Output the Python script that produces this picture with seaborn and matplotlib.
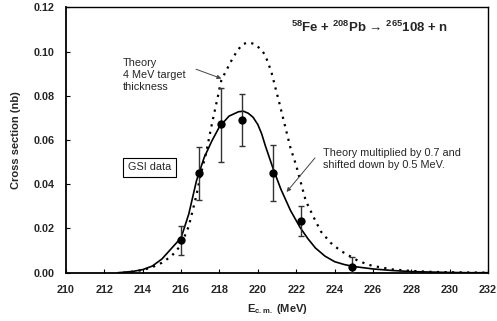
import matplotlib
matplotlib.use("Agg")
import matplotlib.pyplot as plt
import seaborn as sns
import pandas as pd

# ---- data ----
exp_E = [216.0, 216.95, 218.06, 219.16, 220.8, 222.24, 224.9]
exp_sigma = [0.0148, 0.045, 0.0671, 0.0691, 0.045, 0.0234, 0.0024]
exp_err_lo = [0.0068, 0.0121, 0.017, 0.0118, 0.0126, 0.0068, 0.0024]
exp_err_hi = [0.0065, 0.012, 0.0166, 0.0118, 0.0126, 0.0068, 0.0048]

solid_E = [212.7, 213.0, 213.5, 214.0, 214.5, 215.0, 215.5, 216.0, 216.4, 216.8,
           217.2, 217.6, 218.0, 218.5, 219.0, 219.25, 219.5, 219.75, 220.0, 220.2,
           220.4, 220.8, 221.2, 221.7, 222.2, 222.6, 223.0, 223.5, 224.0, 224.5,
           225.0, 226.0, 227.0, 228.0, 229.0, 230.0, 231.0, 232.0]
solid_sigma = [0.0, 0.0002, 0.0006, 0.0014, 0.003, 0.0062, 0.011, 0.0158, 0.0265, 0.0415,
               0.052, 0.0595, 0.066, 0.0708, 0.0728, 0.0730, 0.0721, 0.0703, 0.0670, 0.0628,
               0.0572, 0.047, 0.0378, 0.0282, 0.0205, 0.0155, 0.0112, 0.0075, 0.005, 0.0037,
               0.0028, 0.0017, 0.001, 0.0005, 0.0003, 0.0001, 0.0, 0.0]

dot_E = [213.0, 213.5, 214.0, 214.5, 215.0, 215.5, 216.0, 216.4, 216.8, 217.0,
         217.3, 217.6, 217.9, 218.1, 218.3, 218.6, 218.9, 219.2, 219.5, 219.8,
         220.2, 220.4, 220.7, 220.9, 221.1, 221.3, 221.7, 222.0, 222.5, 223.0,
         223.3, 223.8, 224.3, 224.7, 225.2, 225.8, 226.4, 227.0, 228.0, 229.0,
         230.0, 231.0, 232.0]
dot_sigma = [0.0, 0.0005, 0.0012, 0.0025, 0.0045, 0.0075, 0.0125, 0.021, 0.035, 0.0435,
             0.054, 0.067, 0.079, 0.087, 0.0905, 0.0955, 0.1, 0.1033, 0.1041, 0.1035,
             0.1008, 0.098, 0.091, 0.0842, 0.0775, 0.0705, 0.0565, 0.0485, 0.0325, 0.0235,
             0.0185, 0.0135, 0.01, 0.008, 0.0055, 0.0035, 0.0024, 0.0015, 0.0008, 0.0004,
             0.0002, 0.0001, 0.0]

x_ticks = list(range(210, 233, 2))
y_ticks = [0.00, 0.02, 0.04, 0.06, 0.08, 0.10, 0.12]

# ---- style ----
sns.set_style("white")
plt.rcParams["font.family"] = ["Liberation Sans", "DejaVu Sans"]
plt.rcParams["mathtext.fontset"] = "custom"
plt.rcParams["mathtext.rm"] = "Liberation Sans:bold"
plt.rcParams["mathtext.it"] = "Liberation Sans:bold"
plt.rcParams["mathtext.bf"] = "Liberation Sans:bold"
plt.rcParams["mathtext.default"] = "rm"

fig = plt.figure(figsize=(4.97, 3.21), dpi=100)
ax = fig.add_axes([66 / 497, 1 - 272.7 / 321, (488 - 66) / 497, (272.7 - 7.3) / 321])

df_solid = pd.DataFrame({"E": solid_E, "sigma": solid_sigma})
df_dot = pd.DataFrame({"E": dot_E, "sigma": dot_sigma})
df_exp = pd.DataFrame({"E": exp_E, "sigma": exp_sigma})

sns.lineplot(data=df_dot, x="E", y="sigma", ax=ax, color="black", lw=1.6,
             linestyle=(0, (1, 2.4)), sort=False, estimator=None)
sns.lineplot(data=df_solid, x="E", y="sigma", ax=ax, color="black", lw=1.2,
             sort=False, estimator=None)
ax.errorbar(exp_E, exp_sigma, yerr=[exp_err_lo, exp_err_hi], fmt="none",
            ecolor="#333333", elinewidth=1.0, capsize=2, capthick=1.0, zorder=3)
sns.scatterplot(data=df_exp, x="E", y="sigma", ax=ax, color="black", s=36,
                edgecolor="black", linewidth=0, zorder=4)

ax.set_xlim(210, 232)
ax.set_ylim(0, 0.12)
ax.set_xticks(x_ticks)
ax.set_yticks(y_ticks)
ax.set_xticklabels([str(t) for t in x_ticks], fontweight="bold", fontsize=7.8)
ax.set_yticklabels([f"{t:.2f}" for t in y_ticks], fontweight="bold", fontsize=7.8)
ax.tick_params(axis="x", direction="in", length=3, width=0.8, color="black",
               bottom=True, top=False, pad=9)
ax.tick_params(axis="y", direction="in", length=3, width=0.8, color="black",
               left=True, right=False, pad=8)
for sp in ax.spines.values():
    sp.set_color("black")
    sp.set_linewidth(1.0)
ax.spines["left"].set_linewidth(1.3)
ax.spines["bottom"].set_linewidth(1.3)

ax.set_xlabel(r"E$_{\mathrm{c.m.}}$ (MeV)", fontweight="bold", fontsize=8, labelpad=5)
ax.set_ylabel("Cross section (nb)", fontweight="bold", fontsize=8, labelpad=9)

# reaction label
ax.text(0.72, 0.926, r"$^{58}$Fe + $^{208}$Pb → $^{265}$108 + n", transform=ax.transAxes,
        ha="center", va="center", fontsize=9.5, fontweight="bold")

# annotations
ax.text(212.95, 0.0894, "Theory\n4 MeV target\nthickness",
        ha="left", va="center", fontsize=7.8, linespacing=1.2)
ax.annotate("", xy=(218.1, 0.0878), xytext=(216.78, 0.092),
            arrowprops=dict(arrowstyle="-|>", color="#444444", lw=0.7,
                            shrinkA=0, shrinkB=0, mutation_scale=6))
ax.annotate("", xy=(221.5, 0.0365), xytext=(222.98, 0.0519),
            arrowprops=dict(arrowstyle="-|>", color="#444444", lw=0.7,
                            shrinkA=0, shrinkB=0, mutation_scale=6))
ax.text(223.38, 0.0514, "Theory multiplied by 0.7 and\nshifted down by 0.5 MeV.",
        ha="left", va="center", fontsize=7.8, linespacing=1.2)

ax.text(214.35, 0.0476, "GSI data", ha="center", va="center", fontsize=7.8,
        bbox=dict(boxstyle="square,pad=0.45", facecolor="white", edgecolor="black", lw=0.8))

fig.savefig("out.png", dpi=100)
